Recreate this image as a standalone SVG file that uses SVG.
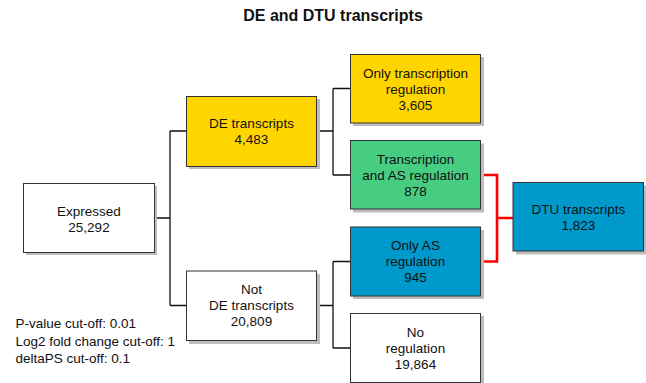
<svg xmlns="http://www.w3.org/2000/svg" width="646" height="383" viewBox="0 0 646 383">
  <style>
    text { font-family: "Liberation Sans", Arial, Helvetica, sans-serif; font-size: 13.5px; fill: #111; }
    .label { text-anchor: middle; }
    .title { font-size: 16px; font-weight: bold; text-anchor: middle; }
    .box { stroke: #333; stroke-width: 1; }
    .shadow { fill: #bdbdbd; }
    .white { fill: #ffffff; }
    .yellow { fill: #ffd500; }
    .green { fill: #47cd82; }
    .blue { fill: #0099cc; }
    .link { fill: none; stroke: #111; stroke-width: 1.3; }
    .dtu { fill: none; stroke: #ff0000; stroke-width: 2.6; }
  </style>

  <rect width="646" height="383" fill="#ffffff"/>

  <text class="title" x="333" y="21">DE and DTU transcripts</text>

  <!-- connectors -->
  <g id="connectors">
    <path class="link" d="M154.5 218 H170 M170 131 V305.5 M170 131 H186.5 M170 305.5 H186.5"/>
    <path class="link" d="M316.5 131 H333 M333 88.5 V175 M333 88.5 H350 M333 175 H350"/>
    <path class="link" d="M316.5 305.5 H333 M333 261.5 V348 M333 261.5 H350 M333 348 H350"/>
    <path class="dtu" d="M480.5 175 H497 V261.5 H480.5 M497 218 H513"/>
  </g>

  <g id="expressed">
    <rect class="shadow" x="26" y="186" width="131" height="69"/>
    <rect class="box white" x="23.5" y="183.5" width="131" height="69"/>
    <text class="label" x="89" y="215.5">Expressed</text>
    <text class="label" x="89" y="231.5">25,292</text>
  </g>

  <g id="de-transcripts">
    <rect class="shadow" x="189" y="99" width="131" height="70"/>
    <rect class="box yellow" x="186.5" y="96.5" width="130" height="70"/>
    <text class="label" x="251.5" y="127.5">DE transcripts</text>
    <text class="label" x="251.5" y="143.5">4,483</text>
  </g>

  <g id="not-de-transcripts">
    <rect class="shadow" x="189" y="274" width="131" height="70"/>
    <rect class="box white" x="186.5" y="271" width="130" height="69.5"/>
    <text class="label" x="251.5" y="293.5">Not</text>
    <text class="label" x="251.5" y="309.5">DE transcripts</text>
    <text class="label" x="251.5" y="325.5">20,809</text>
  </g>

  <g id="only-transcription">
    <rect class="shadow" x="353" y="57" width="131" height="69"/>
    <rect class="box yellow" x="350.5" y="54.5" width="130" height="68.5"/>
    <text class="label" x="415.5" y="77.5">Only transcription</text>
    <text class="label" x="415.5" y="93.5">regulation</text>
    <text class="label" x="415.5" y="109.5">3,605</text>
  </g>

  <g id="transcription-and-as">
    <rect class="shadow" x="353" y="143.5" width="131" height="69"/>
    <rect class="box green" x="350.5" y="140.5" width="130" height="68.5"/>
    <text class="label" x="415.5" y="163.5">Transcription</text>
    <text class="label" x="415.5" y="179.5">and AS regulation</text>
    <text class="label" x="415.5" y="195.5">878</text>
  </g>

  <g id="only-as">
    <rect class="shadow" x="353" y="230" width="131" height="69"/>
    <rect class="box blue" x="350.5" y="227" width="130" height="69"/>
    <text class="label" x="415.5" y="250">Only AS</text>
    <text class="label" x="415.5" y="266">regulation</text>
    <text class="label" x="415.5" y="282">945</text>
  </g>

  <g id="no-regulation">
    <rect class="shadow" x="353" y="316" width="131" height="69"/>
    <rect class="box white" x="350.5" y="313.5" width="130" height="69"/>
    <text class="label" x="415.5" y="337">No</text>
    <text class="label" x="415.5" y="353">regulation</text>
    <text class="label" x="415.5" y="369">19,864</text>
  </g>

  <g id="dtu-transcripts">
    <rect class="shadow" x="516" y="185.5" width="131" height="69"/>
    <rect class="box blue" x="513" y="182.5" width="130.5" height="68.5"/>
    <text class="label" x="578.5" y="214">DTU transcripts</text>
    <text class="label" x="578.5" y="230">1,823</text>
  </g>

  <g id="cut-offs">
    <text x="15.5" y="328">P-value cut-off: 0.01</text>
    <text x="15.5" y="345.5">Log2 fold change cut-off: 1</text>
    <text x="15.5" y="363">deltaPS cut-off: 0.1</text>
  </g>
</svg>
